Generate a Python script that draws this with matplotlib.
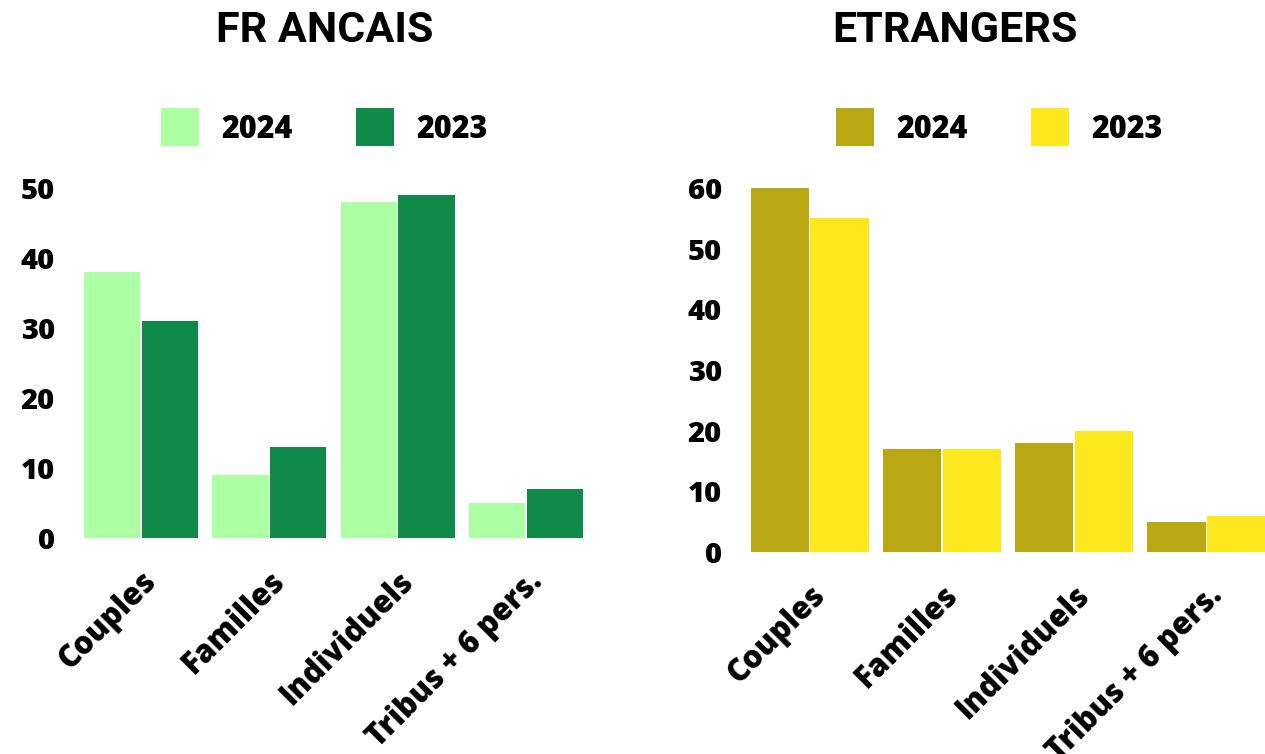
import matplotlib
matplotlib.use('Agg')
import matplotlib.pyplot as plt
from matplotlib.lines import Line2D
import numpy as np

categories = ['Couples', 'Familles', 'Individuels', 'Tribus + 6 pers.']
years = ['2024', '2023']

# FR ANCAIS
fr_2024 = [38, 9, 48, 5]
fr_2023 = [31, 13, 49, 7]

# ETRANGERS
et_2024 = [60, 17, 18, 5]
et_2023 = [55, 17, 20, 6]

plt.rcParams['font.family'] = ['Open Sans', 'DejaVu Sans']

fig = plt.figure(figsize=(12.65, 7.54), dpi=100)

W, H = 1265, 754
WEIGHT = 'heavy'


def make_axes(px_left, px_right, px_bottom, px_top):
    return fig.add_axes([px_left / W, 1 - px_bottom / H,
                         (px_right - px_left) / W, (px_bottom - px_top) / H])


def draw_panel(ax, vals_a, vals_b, col_a, col_b, ymax, yticks):
    x = np.arange(len(categories))
    width = 0.44
    ax.bar(x - 0.225, vals_a, width, color=col_a, linewidth=0)
    ax.bar(x + 0.225, vals_b, width, color=col_b, linewidth=0)
    ax.set_xlim(-0.445, len(categories) - 1 + 0.445)
    ax.set_ylim(0, ymax)
    ax.set_yticks(yticks)
    ax.set_yticklabels([str(t) for t in yticks], fontsize=21, fontweight=WEIGHT)
    ax.set_xticks(x)
    ax.set_xticklabels(categories, rotation=45, ha='right', rotation_mode='anchor',
                       fontsize=22, fontweight=WEIGHT)
    ax.tick_params(axis='y', length=0, pad=21)
    ax.tick_params(axis='x', length=0, pad=20)
    for s in ax.spines.values():
        s.set_visible(False)


ax1 = make_axes(84, 583, 538, 188)
draw_panel(ax1, fr_2024, fr_2023, '#ADFFA3', '#0F8A48', 50, [0, 10, 20, 30, 40, 50])

ax2 = make_axes(751, 1265, 552, 188)
draw_panel(ax2, et_2024, et_2023, '#B9A813', '#FDE71D', 60, [0, 10, 20, 30, 40, 50, 60])

# titles
fig.text(325 / W, 1 - 31 / H, 'FR ANCAIS', ha='center', va='center',
         fontsize=31, fontweight='bold', family=['Roboto', 'DejaVu Sans'])
fig.text(955 / W, 1 - 31 / H, 'ETRANGERS', ha='center', va='center',
         fontsize=31, fontweight='bold', family=['Roboto', 'DejaVu Sans'])

# legends
for cx, cols in [(325, ('#ADFFA3', '#0F8A48')), (1000, ('#B9A813', '#FDE71D'))]:
    handles = [Line2D([], [], linestyle='none', marker='s', markersize=27,
                      markerfacecolor=c, markeredgewidth=0, label=y)
               for c, y in zip(cols, years)]
    fig.legend(handles=handles, loc='center', bbox_to_anchor=(cx / W, 1 - 130 / H),
               ncol=2, frameon=False, prop={'size': 22, 'weight': WEIGHT},
               handlelength=1.2, handletextpad=0.75, columnspacing=2.1)

fig.savefig('out.png', dpi=100)
